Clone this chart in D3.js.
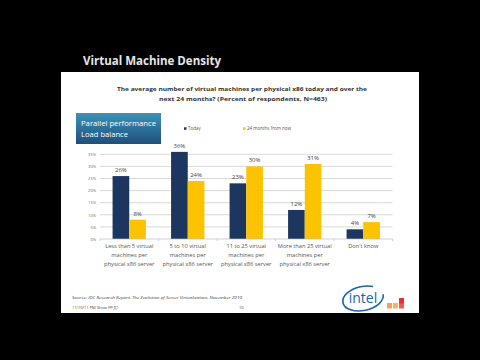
<!DOCTYPE html>
<html><head><meta charset="utf-8">
<script src="https://cdn.jsdelivr.net/npm/d3@7"></script>
<style>html,body{margin:0;padding:0;background:#000;}svg{display:block;}</style>
</head><body>
<script>
const categories = [
  ["Less than 5 virtual", "machines per", "physical x86 server"],
  ["5 to 10 virtual", "machines per", "physical x86 server"],
  ["11 to 25 virtual", "machines per", "physical x86 server"],
  ["More than 25 virtual", "machines per", "physical x86 server"],
  ["Don't know"]
];
const seriesNames = ["Today", "24 months from now"];
const today = [26, 36, 23, 12, 4];
const future = [8, 24, 30, 31, 7];
const yTicks = [0, 5, 10, 15, 20, 25, 30, 35];
const colors = ["#1c365f", "#fcc400"];

const W = 480, H = 360;
const svg = d3.select("body").append("svg").attr("width", W).attr("height", H);
svg.append("rect").attr("width", W).attr("height", H).attr("fill", "#000");

// Slide
svg.append("rect").attr("x", 61).attr("y", 72).attr("width", 358).attr("height", 241).attr("fill", "#fff");

// Title
svg.append("text").attr("x", 83).attr("y", 64.5).attr("fill", "#e6e6e6")
  .attr("font-family", "Open Sans, sans-serif").attr("font-weight", "bold").attr("font-size", 12)
  .attr("textLength", 138).attr("lengthAdjust", "spacingAndGlyphs").text("Virtual Machine Density");

// Subtitle
const sub = svg.append("g").attr("font-family", "Open Sans, sans-serif").attr("font-weight", "bold")
  .attr("font-size", 6).attr("fill", "#333");
sub.append("text").attr("x", 117).attr("y", 91).attr("textLength", 250).attr("lengthAdjust", "spacingAndGlyphs")
  .text("The average number of virtual machines per physical x86 today and over the");
sub.append("text").attr("x", 159).attr("y", 101).attr("textLength", 168).attr("lengthAdjust", "spacingAndGlyphs")
  .text("next 24 months?  (Percent of respondents, N=463)");

// Callout
const defs = svg.append("defs");
const grad = defs.append("linearGradient").attr("id", "cg").attr("x1", 0).attr("y1", 0).attr("x2", 0).attr("y2", 1);
grad.append("stop").attr("offset", "0%").attr("stop-color", "#3d93b8");
grad.append("stop").attr("offset", "100%").attr("stop-color", "#1d4f7c");
svg.append("rect").attr("x", 76).attr("y", 113).attr("width", 85).attr("height", 31).attr("fill", "url(#cg)");
const co = svg.append("g").attr("font-family", "Open Sans, sans-serif").attr("font-size", 7.5).attr("fill", "#fff");
co.append("text").attr("x", 81).attr("y", 126).attr("textLength", 75).attr("lengthAdjust", "spacingAndGlyphs").text("Parallel performance");
co.append("text").attr("x", 81).attr("y", 136.5).attr("textLength", 47).attr("lengthAdjust", "spacingAndGlyphs").text("Load balance");

// Scales
const x0 = d3.scaleBand().domain(d3.range(categories.length)).range([100, 392.5]).paddingInner(0.43).paddingOuter(0.215);
const x1 = d3.scaleBand().domain(seriesNames).range([0, x0.bandwidth()]);
const y = d3.scaleLinear().domain([0, 35]).range([239, 154.3]);

// Gridlines
svg.append("g").selectAll("line").data(yTicks.slice(1)).join("line")
  .attr("x1", 100).attr("x2", 392.5).attr("y1", d => y(d)).attr("y2", d => y(d))
  .attr("stroke", "#c8c8c8").attr("stroke-width", 0.7);

// Y axis labels
const yAxis = d3.axisLeft(y).tickValues(yTicks).tickFormat(d => d + "%").tickSize(0).tickPadding(4);
const ya = svg.append("g").attr("transform", "translate(100,0)").call(yAxis);
ya.select(".domain").remove();
ya.selectAll("text").attr("font-family", "Open Sans, sans-serif").attr("font-size", 4).attr("fill", "#666");

// Bars
const data = categories.map((c, i) => ({i, vals: [today[i], future[i]]}));
const groups = svg.append("g").selectAll("g").data(data).join("g")
  .attr("transform", d => `translate(${x0(d.i)},0)`);
groups.selectAll("rect").data(d => d.vals.map((v, k) => ({k, v}))).join("rect")
  .attr("x", d => x1(seriesNames[d.k])).attr("width", x1.bandwidth())
  .attr("y", d => y(d.v)).attr("height", d => y(0) - y(d.v)).attr("fill", d => colors[d.k]);
groups.selectAll("text").data(d => d.vals.map((v, k) => ({k, v}))).join("text")
  .attr("x", d => x1(seriesNames[d.k]) + x1.bandwidth() / 2).attr("y", d => y(d.v) - 4)
  .attr("text-anchor", "middle").attr("font-family", "Open Sans, sans-serif").attr("font-size", 6).attr("fill", "#444")
  .text(d => d.v + "%");

// X axis baseline and ticks
svg.append("line").attr("x1", 100).attr("x2", 392.5).attr("y1", y(0)).attr("y2", y(0)).attr("stroke", "#bbb").attr("stroke-width", 0.7);
svg.append("g").selectAll("line").data(d3.range(categories.length + 1)).join("line")
  .attr("x1", d => 100 + d * x0.step()).attr("x2", d => 100 + d * x0.step())
  .attr("y1", y(0)).attr("y2", y(0) + 2).attr("stroke", "#bbb").attr("stroke-width", 0.7);

// Category labels
const cl = svg.append("g").attr("font-family", "Open Sans, sans-serif").attr("font-size", 5.7).attr("fill", "#555").attr("text-anchor", "middle");
categories.forEach((lines, i) => {
  lines.forEach((ln, j) => {
    cl.append("text").attr("x", x0(i) + x0.bandwidth() / 2).attr("y", 248 + j * 9).text(ln);
  });
});

// Legend
const lg = svg.append("g").attr("font-family", "Open Sans, sans-serif").attr("font-size", 4.5).attr("fill", "#555");
[[184, 0], [243, 1]].forEach(([lx, k]) => {
  lg.append("rect").attr("x", lx).attr("y", 127.3).attr("width", 2.5).attr("height", 2.5).attr("fill", colors[k]);
  lg.append("text").attr("x", lx + 4).attr("y", 130.3).text(seriesNames[k]);
});

// Footer
const ft = svg.append("g").attr("font-family", "Open Sans, sans-serif").attr("font-size", 4).attr("fill", "#444");
ft.append("text").attr("x", 72).attr("y", 298.5).attr("font-style", "italic").attr("textLength", 170).attr("lengthAdjust", "spacingAndGlyphs")
  .text("Source: IDC Research Report, The Evolution of Server Virtualization, November 2010");
ft.append("text").attr("x", 72).attr("y", 308.5).text("11/10/11 PM Show (中文)");
ft.append("text").attr("x", 239).attr("y", 308.5).text("10");

// Intel logo
svg.append("ellipse").attr("cx", 363).attr("cy", 298.5).attr("rx", 20.5).attr("ry", 12)
  .attr("fill", "none").attr("stroke", "#1a66a8").attr("stroke-width", 1.6)
  .attr("stroke-dasharray", "90 20").attr("transform", "rotate(-12,363,298.5)");
svg.append("text").attr("x", 363).attr("y", 303).attr("text-anchor", "middle").attr("font-family", "Open Sans, sans-serif")
  .attr("font-size", 14).attr("fill", "#1a66a8").text("intel");
// small squares logo
[[387, 303, "#f5a05a"], [393, 303, "#f7b26b"], [399, 303, "#ec5c4a"], [399, 298, "#e8303a"]].forEach(([sx, sy, c]) => {
  svg.append("rect").attr("x", sx).attr("y", sy).attr("width", 5).attr("height", 5.5).attr("fill", c);
});
</script>
</body></html>
